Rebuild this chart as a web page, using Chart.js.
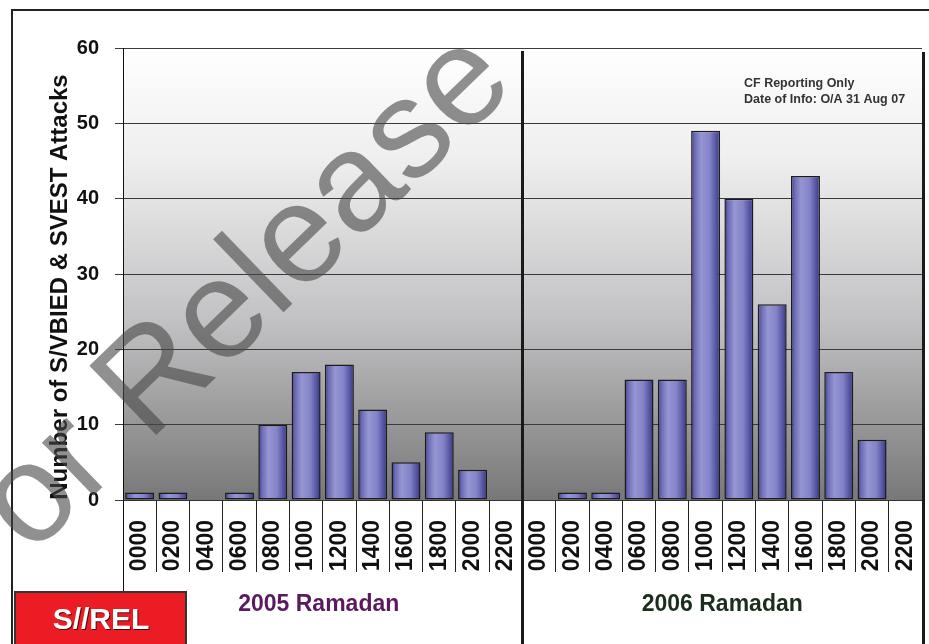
<!DOCTYPE html>
<html>
<head>
<meta charset="utf-8">
<title>S/VBIED & SVEST Attacks by Hour - Ramadan 2005 vs 2006</title>
<script src="https://cdn.jsdelivr.net/npm/chart.js@4.4.0/dist/chart.umd.min.js"></script>
<style>
  html, body { margin: 0; padding: 0; background: #fff; }
  #wrap { position: relative; width: 929px; height: 644px; }
</style>
</head>
<body>
<div id="wrap"><canvas id="attackChart"></canvas></div>
<script>
// Hour-of-day buckets, one set per Ramadan
const hours = ['0000', '0200', '0400', '0600', '0800', '1000', '1200', '1400', '1600', '1800', '2000', '2200'];
const ramadan2005 = [1, 1, 0, 1, 10, 17, 18, 12, 5, 9, 4, 0];
const ramadan2006 = [0, 1, 1, 16, 16, 49, 40, 26, 43, 17, 8, 0];
const yTicks = [0, 10, 20, 30, 40, 50, 60];
const periodNames = ['2005 Ramadan', '2006 Ramadan'];

const labels = hours.concat(hours);
const values = ramadan2005.concat(ramadan2006);
const FONT = "'Liberation Sans', Arial, sans-serif";
const BAR_PCT = 0.87;

// horizontal shading on each bar
function barFill(context) {
    const chart = context.chart;
    const xs = chart.scales && chart.scales.x;
    if (!xs || context.dataIndex === undefined) return '#8484c8';
    const cx = xs.getPixelForValue(context.dataIndex);
    const half = xs.width / labels.length * BAR_PCT / 2;
    if (!Number.isFinite(cx) || !Number.isFinite(half) || half <= 0) return '#8484c8';
    const g = chart.ctx.createLinearGradient(cx - half, 0, cx + half, 0);
    g.addColorStop(0, '#363680');
    g.addColorStop(0.12, '#6a6ab4');
    g.addColorStop(0.35, '#9696d4');
    g.addColorStop(0.65, '#8282c6');
    g.addColorStop(0.88, '#5050a0');
    g.addColorStop(1, '#34347a');
    return g;
}

const backdrop = {
    id: 'backdrop',
    beforeDraw(chart) {
        const { ctx, chartArea: a } = chart;
        ctx.save();
        ctx.fillStyle = '#ffffff';
        ctx.fillRect(0, 0, chart.width, chart.height);
        const g = ctx.createLinearGradient(0, a.top, 0, a.bottom);
        g.addColorStop(0, '#ffffff');
        g.addColorStop(0.25, '#eeeeef');
        g.addColorStop(0.6, '#c2c2c4');
        g.addColorStop(1, '#787878');
        ctx.fillStyle = g;
        ctx.fillRect(a.left, a.top, a.right - a.left + 3, a.bottom - a.top);
        ctx.restore();
    }
};

const decorations = {
    id: 'decorations',
    afterDraw(chart) {
        const { ctx, chartArea: a, scales: { x } } = chart;
        const H = chart.height;
        ctx.save();

        // outer frame
        ctx.strokeStyle = '#222';
        ctx.lineWidth = 2;
        ctx.beginPath();
        ctx.moveTo(12, H);
        ctx.lineTo(12, 10);
        ctx.lineTo(chart.width, 10);
        ctx.stroke();

        // left axis line runs down to the badge
        ctx.lineWidth = 1;
        ctx.strokeStyle = '#111';
        ctx.beginPath();
        ctx.moveTo(a.left + 0.5, a.bottom);
        ctx.lineTo(a.left + 0.5, 592);
        ctx.stroke();

        // divider between the two years, and right edge
        const n = hours.length;
        const mid = (x.getPixelForValue(n - 1) + x.getPixelForValue(n)) / 2;
        ctx.strokeStyle = '#1a1a1a';
        ctx.lineWidth = 3;
        ctx.beginPath();
        ctx.moveTo(mid, a.top + 3);
        ctx.lineTo(mid, H);
        ctx.moveTo(a.right + 1.5, a.top + 4);
        ctx.lineTo(a.right + 1.5, H);
        ctx.stroke();

        // y axis title
        ctx.fillStyle = '#111';
        ctx.font = 'bold 24px ' + FONT;
        ctx.textAlign = 'center';
        ctx.textBaseline = 'middle';
        ctx.translate(60, 287);
        ctx.rotate(-Math.PI / 2);
        ctx.fillText('Number of S/VBIED & SVEST Attacks', 0, 0);
        ctx.setTransform(1, 0, 0, 1, 0, 0);

        // period names under each half
        const left = (a.left + mid) / 2;
        const right = (mid + a.right) / 2;
        ctx.font = 'bold 23px ' + FONT;
        ctx.fillStyle = '#5b1a5e';
        ctx.fillText(periodNames[0], left - 4, 605);
        ctx.fillStyle = '#1b2e1d';
        ctx.fillText(periodNames[1], right, 605);

        // source note
        ctx.fillStyle = '#333';
        ctx.font = 'bold 12.5px ' + FONT;
        ctx.textAlign = 'left';
        ctx.textBaseline = 'alphabetic';
        ctx.fillText('CF Reporting Only', 744, 87);
        ctx.fillText('Date of Info: O/A 31 Aug 07', 744, 103);

        // classification badge
        ctx.fillStyle = '#ec1c24';
        ctx.fillRect(15, 592, 171, 60);
        ctx.strokeStyle = '#333';
        ctx.lineWidth = 2;
        ctx.strokeRect(15, 592, 171, 60);
        ctx.font = 'bold 30px ' + FONT;
        ctx.textAlign = 'center';
        ctx.textBaseline = 'middle';
        ctx.shadowColor = 'rgba(0,0,0,0.7)';
        ctx.shadowOffsetX = 1;
        ctx.shadowOffsetY = 1;
        ctx.fillStyle = '#fff';
        ctx.fillText('S//REL', 101, 621);
        ctx.shadowColor = 'transparent';

        // watermark
        ctx.translate(-31, 616);
        ctx.rotate(-44 * Math.PI / 180);
        ctx.font = '140px ' + FONT;
        ctx.textAlign = 'left';
        ctx.textBaseline = 'alphabetic';
        ctx.fillStyle = 'rgba(70,70,70,0.6)';
        ctx.fillText('For Release', 0, 0);

        ctx.restore();
    }
};

const ctx = document.getElementById('attackChart').getContext('2d');
new Chart(ctx, {
    type: 'bar',
    data: {
        labels: labels,
        datasets: [{
            label: 'S/VBIED & SVEST Attacks',
            data: values,
            backgroundColor: barFill,
            borderColor: '#1c1c1c',
            borderWidth: 1.5,
            borderSkipped: false,
            barPercentage: BAR_PCT,
            categoryPercentage: 1.0
        }]
    },
    options: {
        responsive: true,
        maintainAspectRatio: false,
        animation: false,
        layout: { padding: { left: 0, top: 48, right: 7, bottom: 0 } },
        plugins: {
            legend: { display: false },
            tooltip: { enabled: false }
        },
        scales: {
            x: {
                afterFit: s => { s.height = 144; },
                grid: {
                    offset: true,
                    drawOnChartArea: false,
                    tickLength: 72,
                    color: '#222',
                    lineWidth: 1
                },
                border: { display: true, color: '#333' },
                ticks: {
                    autoSkip: false,
                    minRotation: 90,
                    maxRotation: 90,
                    padding: -52,
                    color: '#111',
                    font: { family: FONT, size: 23, weight: 'bold' }
                }
            },
            y: {
                min: yTicks[0],
                max: yTicks[yTicks.length - 1],
                afterFit: s => { s.width = 123; },
                afterBuildTicks: s => { s.ticks = yTicks.map(v => ({ value: v })); },
                grid: { color: '#3a3a3a', lineWidth: 1, tickLength: 8 },
                border: { display: true, color: '#111' },
                ticks: {
                    padding: 16,
                    color: '#111',
                    font: { family: FONT, size: 20, weight: 'bold' }
                }
            }
        }
    },
    plugins: [backdrop, decorations]
});
</script>
</body>
</html>
